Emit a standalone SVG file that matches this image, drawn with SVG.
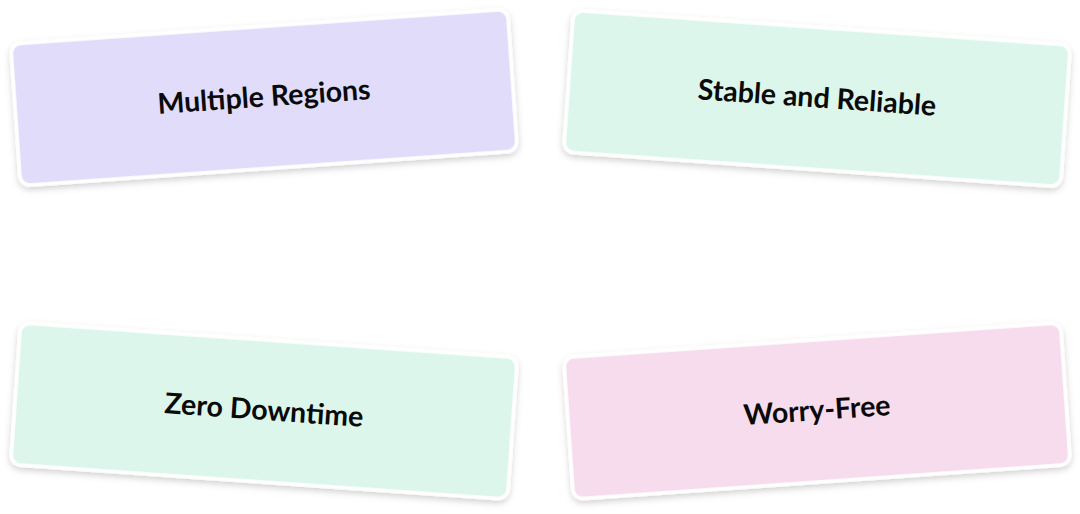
<svg xmlns="http://www.w3.org/2000/svg" width="1080" height="514" viewBox="0 0 1080 514">
<defs>
<filter id="sh" x="-10%" y="-20%" width="120%" height="150%">
<feDropShadow dx="0" dy="3" stdDeviation="3" flood-color="#000" flood-opacity="0.18"/>
</filter>
<style>
.card{stroke:#fff;stroke-width:3.5;filter:url(#sh)}
.lbl{font-family:Lato,"Noto Sans",sans-serif;font-weight:bold;font-size:28.5px;fill:#0a0a0a;text-anchor:middle;dominant-baseline:central}
</style>
</defs>
<rect width="1080" height="514" fill="#fff"/>
<g id="connectors"/>
<g id="multiple-regions" transform="translate(264,97.5) rotate(-4)">
<rect class="card" x="-249" y="-71" width="498" height="142" rx="10" fill="#e1dcfa"/>
<text class="lbl" x="0" y="-2">Multiple Regions</text>
</g>
<g id="stable-reliable" transform="translate(817,98.5) rotate(4)">
<rect class="card" x="-249" y="-71" width="498" height="142" rx="10" fill="#dcf6ec"/>
<text class="lbl" x="0" y="-2">Stable and Reliable</text>
</g>
<g id="zero-downtime" transform="translate(264,411) rotate(4)">
<rect class="card" x="-249" y="-71" width="498" height="142" rx="10" fill="#dcf6ec"/>
<text class="lbl" x="0" y="-2">Zero Downtime</text>
</g>
<g id="worry-free" transform="translate(817,411) rotate(-4)">
<rect class="card" x="-249" y="-71" width="498" height="142" rx="10" fill="#f6dcec"/>
<text class="lbl" x="0" y="-2">Worry-Free</text>
</g>
</svg>
